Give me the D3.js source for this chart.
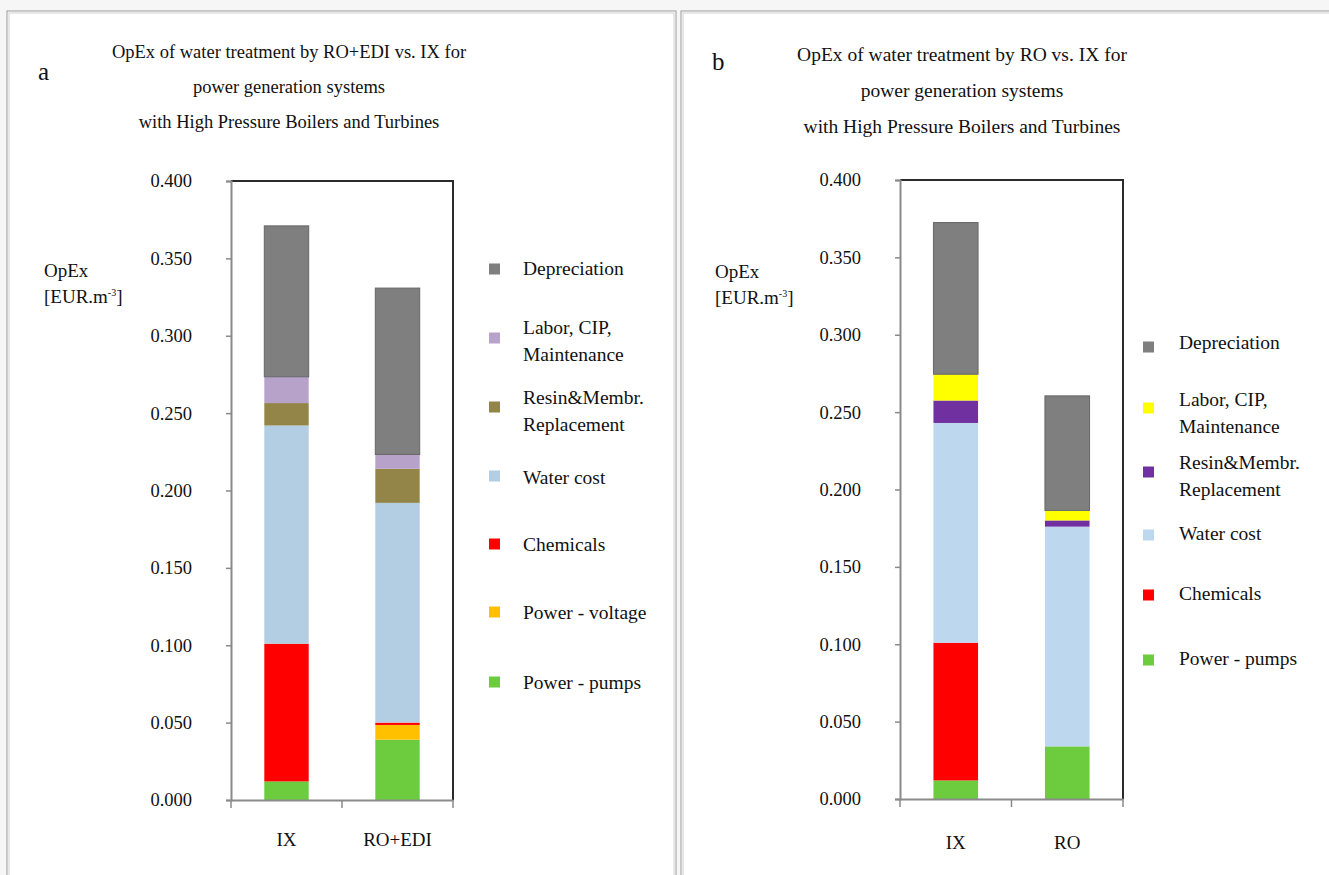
<!DOCTYPE html>
<html><head><meta charset="utf-8">
<script src="https://cdn.jsdelivr.net/npm/d3@7/dist/d3.min.js"></script>
<style>
body{margin:0;background:#f6f6f6;}
svg{display:block;}
text{font-family:"Liberation Serif","Times New Roman",serif;fill:#111;}
</style></head>
<body><svg id="c" width="1329" height="875"></svg>
<script>
// ---------- DATA ----------
const yTicks = [0, 0.05, 0.10, 0.15, 0.20, 0.25, 0.30, 0.35, 0.40];

// Panel a
const catsA = ["IX", "RO+EDI"];
const seriesA = ["Power - pumps","Power - voltage","Chemicals","Water cost","Resin&Membr. Replacement","Labor, CIP, Maintenance","Depreciation"];
const pumpsA = [0.012, 0.039];
const voltageA = [0.000, 0.0095];
const chemicalsA = [0.089, 0.0015];
const waterA = [0.141, 0.142];
const resinA = [0.0145, 0.022];
const laborA = [0.017, 0.0093];
const deprA = [0.0975, 0.1075];
const colorsA = ["#6ccc3e","#ffc000","#ff0000","#b3cde3","#938448","#b7a2c9","#7f7f7f"];

// Panel b
const catsB = ["IX", "RO"];
const seriesB = ["Power - pumps","Chemicals","Water cost","Resin&Membr. Replacement","Labor, CIP, Maintenance","Depreciation"];
const pumpsB = [0.012, 0.034];
const chemicalsB = [0.089, 0.000];
const waterB = [0.142, 0.142];
const resinB = [0.0145, 0.004];
const laborB = [0.017, 0.0065];
const deprB = [0.098, 0.074];
const colorsB = ["#6ccc3e","#ff0000","#bdd7ee","#7030a0","#ffff00","#7f7f7f"];

const titleA = ["OpEx of water treatment by RO+EDI vs. IX for","power generation systems","with High Pressure Boilers and Turbines"];
const titleB = ["OpEx of water treatment by RO vs. IX for","power generation systems","with High Pressure Boilers and Turbines"];

// ---------- DRAW ----------
const svg = d3.select("#c");

function panel(cfg){
  const g = svg.append("g");
  g.append("rect").attr("x",cfg.frame[0]).attr("y",cfg.frame[1]).attr("width",cfg.frame[2]).attr("height",cfg.frame[3])
    .attr("fill","#fff").attr("stroke","#9a9a9a").attr("stroke-width",1);
  g.append("rect").attr("x",cfg.frame[0]+2).attr("y",cfg.frame[1]+2).attr("width",cfg.frame[2]-4).attr("height",cfg.frame[3]-4)
    .attr("fill","none").attr("stroke","#d2d2d2").attr("stroke-width",1);

  g.append("text").attr("x",cfg.letter[0]).attr("y",cfg.letter[1]).attr("font-size",25).text(cfg.letterText);
  cfg.title.forEach((t,i)=>{
    g.append("text").attr("x",cfg.titleX).attr("y",cfg.titleY + i*cfg.titleDy).attr("text-anchor","middle")
      .attr("font-size",cfg.titleSize).text(t);
  });

  const x = d3.scaleBand().domain(cfg.cats).range([cfg.x0,cfg.x1]).paddingInner(0.6).paddingOuter(0.3);
  const y = d3.scaleLinear().domain([0,0.4]).range([cfg.y0,cfg.y1]);

  const rows = cfg.cats.map((c,i)=>{ const o={cat:c}; cfg.series.forEach((s,j)=>o[s]=cfg.values[j][i]); return o; });
  const stack = d3.stack().keys(cfg.series)(rows);
  const color = d3.scaleOrdinal().domain(cfg.series).range(cfg.colors);

  g.selectAll("g.layer").data(stack).join("g").attr("class","layer")
    .attr("fill",d=>color(d.key))
    .attr("stroke",d=>d.key==="Depreciation"?"#666":"none")
    .attr("stroke-width",d=>d.key==="Depreciation"?1:0)
    .selectAll("rect").data(d=>d).join("rect")
    .attr("x",d=>x(d.data.cat)).attr("width",x.bandwidth())
    .attr("y",d=>y(d[1])).attr("height",d=>Math.max(0,y(d[0])-y(d[1])));

  g.append("path").attr("d",`M${cfg.x0},${cfg.y1}H${cfg.x1}V${cfg.y0}`).attr("fill","none").attr("stroke","#2b2b2b").attr("stroke-width",2);

  const ya = g.append("g").attr("transform",`translate(${cfg.x0},0)`)
    .call(d3.axisLeft(y).tickValues(yTicks).tickFormat(d3.format(".3f")).tickSize(5).tickPadding(34));
  ya.select(".domain").attr("stroke","#8a8a8a").attr("stroke-width",2);
  ya.selectAll(".tick line").attr("stroke","#8a8a8a").attr("stroke-width",1.5);
  ya.selectAll(".tick text").attr("font-family","Liberation Serif").attr("font-size",18.5).attr("fill","#111");

  const xa = g.append("g").attr("transform",`translate(0,${cfg.y0})`)
    .call(d3.axisBottom(x).tickSize(0).tickPadding(cfg.catPad));
  xa.select(".domain").attr("stroke","#8a8a8a").attr("stroke-width",2);
  xa.selectAll(".tick text").attr("font-family","Liberation Serif").attr("font-size",19).attr("fill","#111");
  const bounds = [cfg.x0].concat(cfg.cats.map(c=>x(c)+x.bandwidth()+x.step()*x.paddingInner()/2));
  bounds[bounds.length-1]=cfg.x1;
  xa.selectAll("line.bt").data(bounds).join("line").attr("class","bt")
    .attr("x1",d=>d).attr("x2",d=>d).attr("y1",0).attr("y2",8).attr("stroke","#8a8a8a").attr("stroke-width",1.5);

  const yl = g.append("text").attr("x",cfg.ylab[0]).attr("y",cfg.ylab[1]).attr("font-size",19);
  yl.text("OpEx");
  const yl2 = g.append("text").attr("x",cfg.ylab[0]).attr("y",cfg.ylab[1]+26).attr("font-size",19);
  yl2.append("tspan").text("[EUR.m");
  yl2.append("tspan").attr("font-size",10).attr("dy",-7).text("-3");
  yl2.append("tspan").attr("dy",7).text("]");

  const leg = g.append("g");
  cfg.legend.forEach(it=>{
    const k = it.key;
    leg.append("rect").attr("x",cfg.legX).attr("y",it.my-5.5).attr("width",11).attr("height",11).attr("fill",color(k));
    it.lines.forEach((ln,i)=>{
      leg.append("text").attr("x",cfg.legTX).attr("y",it.ty + i*27).attr("dy","0.35em").attr("font-size",19.5).text(ln);
    });
  });
}

panel({
  frame:[7,11,669,900], letter:[38,80], letterText:"a",
  title:titleA, titleX:289, titleY:58, titleDy:35, titleSize:18.5,
  cats:catsA, series:seriesA, values:[pumpsA,voltageA,chemicalsA,waterA,resinA,laborA,deprA], colors:colorsA,
  x0:231, x1:453, y0:800, y1:181, catPad:33,
  ylab:[44,277],
  legX:489, legTX:523,
  legend:[
    {key:"Depreciation", my:269, ty:268, lines:["Depreciation"]},
    {key:"Labor, CIP, Maintenance", my:338, ty:327, lines:["Labor, CIP,","Maintenance"]},
    {key:"Resin&Membr. Replacement", my:407, ty:397, lines:["Resin&Membr.","Replacement"]},
    {key:"Water cost", my:476, ty:477, lines:["Water cost"]},
    {key:"Chemicals", my:544, ty:544, lines:["Chemicals"]},
    {key:"Power - voltage", my:612, ty:612, lines:["Power - voltage"]},
    {key:"Power - pumps", my:682, ty:682, lines:["Power - pumps"]}
  ]
});

panel({
  frame:[681,11,700,900], letter:[712,70], letterText:"b",
  title:titleB, titleX:962, titleY:61, titleDy:36, titleSize:19.5,
  cats:catsB, series:seriesB, values:[pumpsB,chemicalsB,waterB,resinB,laborB,deprB], colors:colorsB,
  x0:900, x1:1123, y0:799, y1:180, catPad:37,
  ylab:[715,278],
  legX:1143, legTX:1179,
  legend:[
    {key:"Depreciation", my:347, ty:342, lines:["Depreciation"]},
    {key:"Labor, CIP, Maintenance", my:408, ty:399, lines:["Labor, CIP,","Maintenance"]},
    {key:"Resin&Membr. Replacement", my:472, ty:462, lines:["Resin&Membr.","Replacement"]},
    {key:"Water cost", my:535, ty:533, lines:["Water cost"]},
    {key:"Chemicals", my:595, ty:593, lines:["Chemicals"]},
    {key:"Power - pumps", my:660, ty:658, lines:["Power - pumps"]}
  ]
});
</script></body></html>
